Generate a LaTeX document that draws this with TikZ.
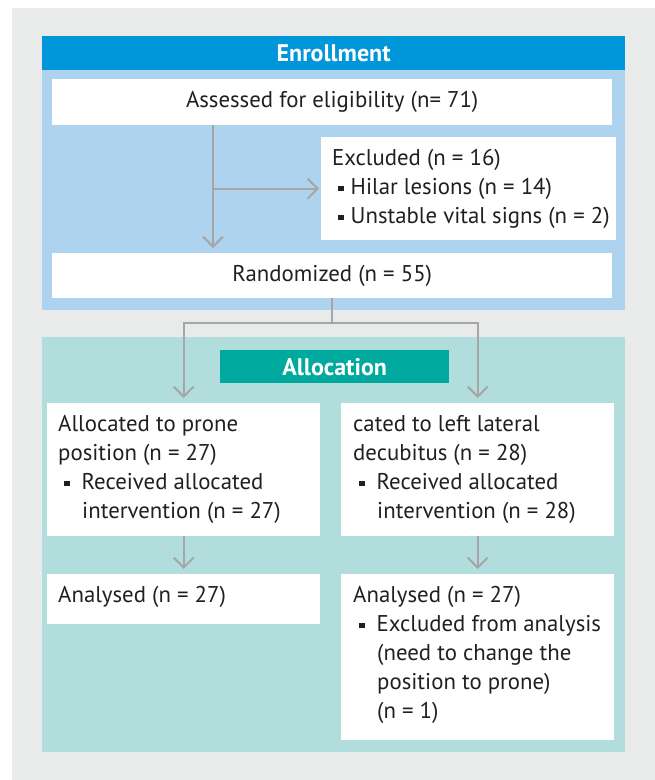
\documentclass[tikz,border=0pt]{standalone}
\usepackage{fontspec}
\setmainfont{PT Sans}
\usetikzlibrary{arrows.meta}
\definecolor{bggray}{HTML}{E9EBEA}
\definecolor{enrollblue}{HTML}{0096DA}
\definecolor{enrolllight}{HTML}{AED3EF}
\definecolor{alloclight}{HTML}{B1DDDC}
\definecolor{allocteal}{HTML}{00A99D}
\definecolor{arrowgray}{HTML}{A6A6A8}
\definecolor{textgray}{HTML}{231F20}
\newcommand{\sqb}{\rule[3pt]{5.5pt}{5.5pt}}
\tikzset{>={Straight Barb[length=10pt,width=20pt]}}

\begin{document}
\begin{tikzpicture}[x=1pt,y=-1pt,
  box/.style={fill=white,anchor=north west,inner sep=0pt},
  head/.style={anchor=north west,inner sep=0pt,font=\fontsize{24}{29}\selectfont\bfseries,text=white},
  listtext/.style={anchor=north west,inner sep=0pt,align=left},
  flow/.style={draw=arrowgray,line width=2pt,->,shorten >=5pt}]
\useasboundingbox (0,0) rectangle (655,780);
\fontsize{22.8}{29}\selectfont\color{textgray}
\fill[bggray] (12,8) rectangle (655,780);
\fill[enrolllight] (42,36) rectangle (625,310);
\fill[alloclight] (42,337) rectangle (625,752);
% enrollment
\node[head,fill=enrollblue,minimum width=583pt,minimum height=34pt] (enrollhead) at (42,36) {Enrollment};
\node[box,minimum width=560pt,minimum height=46pt] (assessed) at (52,79) {Assessed for eligibility (n= 71)};
\node[box,minimum width=295pt,minimum height=103pt] (excluded) at (321,137) {};
\node[listtext] (excludedtxt) at ([xshift=11pt,yshift=-12pt]excluded.north west)
  {Excluded (n = 16)\\\hspace*{6pt}\sqb\hspace{7pt}Hilar lesions (n = 14)\\\hspace*{6pt}\sqb\hspace{7pt}Unstable vital signs (n = 2)};
\node[box,minimum width=560pt,minimum height=45pt] (randomized) at (52,253) {Randomized (n = 55)};
\coordinate (trunk) at (213,0);
\draw[flow] (trunk |- assessed.south) -- (trunk |- randomized.north);
\draw[flow,shorten >=2pt] (trunk |- excluded.west) -- (excluded.west);
% allocation
\node[head,fill=allocteal,minimum width=229pt,minimum height=33pt] (allochead) at (220,350) {Allocation};
\node[box,minimum width=273pt,minimum height=133pt] (prone) at (47,403) {};
\node[box,minimum width=273pt,minimum height=133pt] (lateral) at (341,403) {};
\node[listtext] (pronetxt) at ([xshift=11pt,yshift=-12pt]prone.north west)
  {Allocated to prone\\position (n = 27)\\\hspace*{6pt}\sqb\hspace{12pt}Received allocated\\\hspace*{24pt}intervention (n = 27)};
\node[listtext] (lateraltxt) at ([xshift=12pt,yshift=-12pt]lateral.north west)
  {cated to left lateral\\decubitus (n = 28)\\\hspace*{6pt}\sqb\hspace{12pt}Received allocated\\\hspace*{24pt}intervention (n = 28)};
\node[box,minimum width=273pt,minimum height=50pt] (anaprone) at (47,574) {};
\node[box,minimum width=273pt,minimum height=166pt] (analateral) at (341,574) {};
\node[listtext] (anapronetxt) at ([xshift=11pt,yshift=-12pt]anaprone.north west) {Analysed (n = 27)};
\node[listtext] (analateraltxt) at ([xshift=12pt,yshift=-12pt]analateral.north west)
  {Analysed (n = 27)\\\hspace*{6pt}\sqb\hspace{12pt}Excluded from analysis\\\hspace*{24pt}(need to change the\\\hspace*{24pt}position to prone)\\\hspace*{24pt}(n = 1)};
\draw[flow] (randomized.south) -- ++(0,25) -| (prone.north);
\draw[flow] (randomized.south) -- ++(0,25) -| (lateral.north);
\draw[flow] (prone.south) -- (anaprone.north);
\draw[flow] (lateral.south) -- (analateral.north);
\end{tikzpicture}
\end{document}
